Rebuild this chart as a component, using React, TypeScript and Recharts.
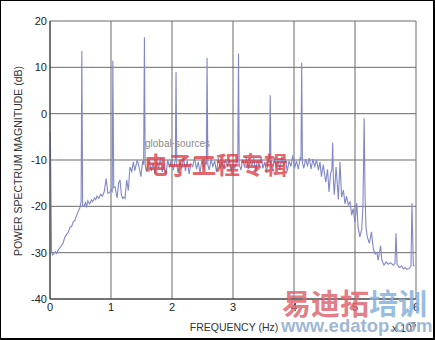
import { LineChart, Line, XAxis, YAxis, CartesianGrid } from 'recharts';

// frequency in units of 1e5 Hz
const frequency = [
  0, 0.005, 0.012, 0.025, 0.04, 0.066, 0.09, 0.11, 0.136, 0.16,
  0.19, 0.213, 0.24, 0.274, 0.3, 0.33, 0.356, 0.38, 0.41, 0.44,
  0.459, 0.49, 0.51, 0.522, 0.535, 0.557, 0.58, 0.6, 0.62, 0.65,
  0.68, 0.7, 0.73, 0.75, 0.77, 0.8, 0.83, 0.86, 0.89, 0.92,
  0.95, 0.98, 1.0, 1.02, 1.03, 1.045, 1.066, 1.1, 1.125, 1.148,
  1.17, 1.19, 1.21, 1.23, 1.257, 1.284, 1.31, 1.34, 1.366, 1.39,
  1.43, 1.46, 1.49, 1.52, 1.535, 1.548, 1.56, 1.58, 1.6, 1.63,
  1.66, 1.69, 1.72, 1.75, 1.78, 1.81, 1.84, 1.87, 1.9, 1.93,
  1.96, 1.99, 2.02, 2.045, 2.055, 2.066, 2.078, 2.1, 2.13, 2.16,
  2.19, 2.22, 2.25, 2.28, 2.31, 2.34, 2.37, 2.4, 2.43, 2.46,
  2.49, 2.52, 2.55, 2.563, 2.575, 2.587, 2.61, 2.64, 2.67, 2.7,
  2.73, 2.76, 2.79, 2.82, 2.85, 2.88, 2.91, 2.94, 2.97, 3.0,
  3.03, 3.06, 3.078, 3.09, 3.102, 3.13, 3.16, 3.19, 3.22, 3.25,
  3.28, 3.31, 3.34, 3.37, 3.4, 3.43, 3.46, 3.49, 3.52, 3.55,
  3.58, 3.598, 3.61, 3.622, 3.65, 3.68, 3.71, 3.74, 3.77, 3.8,
  3.83, 3.86, 3.89, 3.92, 3.95, 3.98, 4.01, 4.04, 4.07, 4.1,
  4.114, 4.126, 4.138, 4.16, 4.19, 4.22, 4.25, 4.28, 4.31, 4.34,
  4.37, 4.4, 4.426, 4.45, 4.48, 4.52, 4.55, 4.574, 4.6, 4.622,
  4.634, 4.646, 4.66, 4.69, 4.727, 4.754, 4.78, 4.81, 4.836, 4.86,
  4.89, 4.918, 4.946, 4.97, 5.0, 5.03, 5.05, 5.08, 5.11, 5.13,
  5.15, 5.165, 5.18, 5.2, 5.235, 5.27, 5.3, 5.33, 5.36, 5.38,
  5.42, 5.44, 5.475, 5.51, 5.546, 5.585, 5.63, 5.656, 5.672, 5.69,
  5.727, 5.765, 5.79, 5.82, 5.85, 5.89, 5.918, 5.934, 5.956, 5.975,
];

// power spectrum magnitude, dB
const magnitude = [
  -4.5, -4, -12, -29.5, -30.5, -30.2, -29.8, -30.2, -29.4, -29.0,
  -28.4, -28.0, -26.8, -26.0, -25.6, -24.5, -24.3, -23.4, -23.0, -21.8,
  -21.2, -20.3, -19, 13.5, -20, -20.0, -19.2, -20, -18.8, -19.5,
  -18.6, -19.0, -18.2, -18.6, -17.8, -18.3, -17.4, -17.8, -16.8, -14.0,
  -17.2, -17.0, -16.4, -16.8, 11.5, -16, -15.8, -18.2, -15, -14.3,
  -17.5, -18.3, -18.0, -18.3, -14.3, -16.6, -11.5, -12.5, -10.4, -12.3,
  -10, -11.5, -13.6, -10.2, -11, 16.5, -11, -12.5, -11.2, -9.8,
  -12.4, -10.6, -13.0, -10.2, -11.8, -9.6, -12.6, -10.8, -13.4, -10.0,
  -11.6, -9.8, -12.2, -10.6, -10, 9, -11, -12.8, -10.4, -11.8,
  -9.6, -12.4, -10.2, -13.0, -10.8, -11.4, -9.4, -12.0, -10.4, -12.8,
  -10.0, -11.6, -10.4, -11, 12, -11, -12.2, -9.8, -11.4, -10.2,
  -12.6, -9.6, -11.8, -10.4, -12.0, -9.8, -11.2, -10.0, -12.4, -10.6,
  -11.8, -10.2, -10.5, 13, -11, -12.2, -9.8, -11.6, -9.4, -12.0,
  -10.4, -11.2, -9.6, -12.4, -10.0, -11.4, -9.2, -11.8, -10.4, -12.6,
  -10.0, -10.5, 4, -11, -12.0, -9.4, -11.6, -10.0, -12.2, -9.2,
  -11.0, -9.8, -12.4, -10.2, -11.4, -9.0, -11.8, -10.2, -12.0, -9.6,
  -10, 11, -10.5, -11.8, -9.8, -11.2, -9.6, -12.0, -9.8, -11.4,
  -10.0, -12.2, -10.4, -13.6, -11.0, -14.8, -12.0, -16.9, -13.0, -12,
  -6.3, -14, -17.5, -11.5, -18.5, -10.4, -18.0, -16.5, -19.5, -17.8,
  -19.7, -19.0, -21.9, -20.5, -23.5, -19.3, -24.5, -26.6, -25.0, -20,
  -1, -18, -24.4, -26.5, -28.0, -25.5, -29.2, -30.3, -30.0, -31.6,
  -28.5, -31.6, -32.7, -32.0, -32.5, -32.2, -32.7, -32.3, -25.8, -32.5,
  -33.2, -32.9, -33.5, -33.2, -33.6, -33.4, -32.8, -19.3, -32.8, -32.8,
];

const xTicks = [0, 1, 2, 3, 4, 5, 6];
const yTicks = [-40, -30, -20, -10, 0, 10, 20];

const data = frequency.map((f, i) => ({ f, m: magnitude[i] }));

const font = '"Liberation Sans", Arial, sans-serif';
const tickStyle = { fontSize: 11, fill: '#222', fontFamily: font };

export default function App() {
  return (
    <div style={{ position: 'absolute', left: 0, top: 0, width: 435, height: 340, background: '#fff', fontFamily: font }}>
      <LineChart width={435} height={340} data={data} margin={{ top: 21, right: 19, bottom: 11, left: 0 }}>
        <CartesianGrid stroke="#6a6a6a" strokeWidth={1} />
        <XAxis
          dataKey="f"
          type="number"
          domain={[0, 6]}
          ticks={xTicks}
          height={30}
          tick={tickStyle}
          tickLine={false}
          tickSize={2}
          axisLine={{ stroke: '#333' }}
        />
        <YAxis
          type="number"
          domain={[-40, 20]}
          ticks={yTicks}
          width={50}
          tick={tickStyle}
          tickLine={false}
          tickSize={1}
          axisLine={{ stroke: '#333' }}
        />
        <Line
          type="linear"
          dataKey="m"
          stroke="#8088c8"
          strokeWidth={1.1}
          dot={false}
          isAnimationActive={false}
        />
      </LineChart>

      {/* axis titles */}
      <div style={{ position: 'absolute', left: 18, top: 161, transform: 'translate(-50%, -50%) rotate(-90deg)', whiteSpace: 'nowrap', fontSize: 10.5, color: '#333' }}>
        POWER SPECTRUM MAGNITUDE (dB)
      </div>
      <div style={{ position: 'absolute', left: 234, top: 327, transform: 'translate(-50%, -50%)', whiteSpace: 'nowrap', fontSize: 10.5, color: '#333' }}>
        FREQUENCY (Hz)
      </div>
      <div style={{ position: 'absolute', left: 392, top: 320, whiteSpace: 'nowrap', fontSize: 10.5, color: '#333' }}>
        x 10<sup style={{ fontSize: 8 }}>5</sup>
      </div>

      {/* watermarks */}
      <div style={{ position: 'absolute', left: 145, top: 138, fontSize: 10, color: '#8a8a8a', whiteSpace: 'nowrap' }}>
        global<span style={{ color: '#d06060' }}>·</span>sources
      </div>
      <div style={{ position: 'absolute', left: 144, top: 152, fontSize: 24, fontWeight: 'bold', color: 'rgba(220,60,70,0.8)', whiteSpace: 'nowrap', fontFamily: '"Noto Sans CJK SC", sans-serif', lineHeight: 1 }}>
        电子工程专辑
      </div>
      <div style={{ position: 'absolute', left: 282, top: 288, fontSize: 29, fontWeight: 'bold', whiteSpace: 'nowrap', fontFamily: '"Noto Sans CJK SC", sans-serif', lineHeight: 1, opacity: 0.85 }}>
        <span style={{ color: '#e06872' }}>易迪拓</span>
        <span style={{ color: '#86b2dc' }}>培训</span>
      </div>
      <div style={{ position: 'absolute', left: 281, top: 317, fontSize: 18.5, fontWeight: 'bold', whiteSpace: 'nowrap', color: 'rgba(140,170,205,0.85)', lineHeight: 1 }}>
        www.edatop.com
      </div>

      <div style={{ position: 'absolute', left: 0, top: 0, width: 435, height: 340, boxSizing: 'border-box', borderStyle: 'solid', borderColor: '#000', borderWidth: '1px 2px 2px 1px', pointerEvents: 'none' }} />
    </div>
  );
}
